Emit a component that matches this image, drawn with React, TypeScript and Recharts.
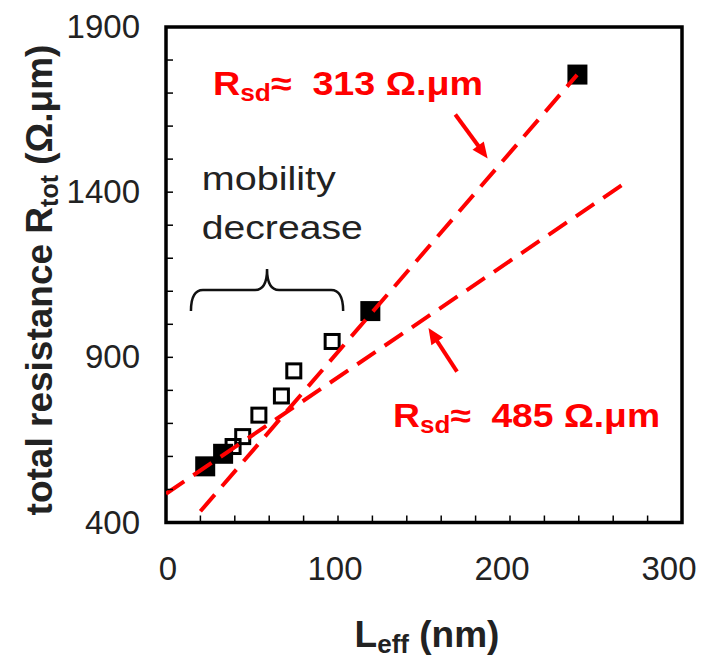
import React from 'react';
import {
  ComposedChart,
  Scatter,
  XAxis,
  YAxis,
  ReferenceArea,
  ReferenceLine,
  ReferenceDot,
} from 'recharts';

// ---- data ----
const xTicks = [0, 20, 40, 60, 80, 100, 120, 140, 160, 180, 200, 220, 240, 260, 280, 300];
const yTicks = [400, 500, 600, 700, 800, 900, 1000, 1100, 1200, 1300, 1400, 1500, 1600, 1700, 1800, 1900];
const xLabelValues = [0, 100, 200, 300];
const yLabelValues = [400, 900, 1400, 1900];

// filled squares (used for the linear fits)
const filledL = [22.8, 33.2, 118.8, 239.2];
const filledR = [570, 608, 1040, 1756];
// open squares (mobility decrease region)
const openL = [39.0, 44.6, 54.0, 67.1, 74.3, 96.6];
const openR = [630, 660, 725, 783, 859, 948];
// fit lines
const fit313L = [20, 239];
const fit313R = [434, 1755];
const fit485L = [0, 267];
const fit485R = [487, 1428];

const toPts = (ls: number[], rs: number[]) => ls.map((l, i) => ({ l, r: rs[i] }));
const filledData = toPts(filledL, filledR);
const openData = toPts(openL, openR);
const fit313Data = toPts(fit313L, fit313R);
const fit485Data = toPts(fit485L, fit485R);

const RED = '#ff0000';
const FONT = '"Liberation Sans", Arial, Helvetica, sans-serif';
const TXT = '#222222';

function XTick(props: any) {
  const { x, y, payload } = props;
  const v = payload.value;
  return (
    <g>
      <line x1={x} x2={x} y1={y} y2={y - 7} stroke="#000" strokeWidth={1.5} />
      {xLabelValues.includes(v) && (
        <text x={x + 2 - v * 0.05} y={y + 57} textAnchor="middle" fontSize={33} fontFamily={FONT} fill={TXT}>
          {v}
        </text>
      )}
    </g>
  );
}

function YTick(props: any) {
  const { x, y, payload } = props;
  const v = payload.value;
  return (
    <g>
      <line x1={x} x2={x + 7} y1={y} y2={y} stroke="#000" strokeWidth={1.5} />
      {yLabelValues.includes(v) && (
        <text x={x - 26} y={y + 11} textAnchor="end" fontSize={33} fontFamily={FONT} fill={TXT}>
          {v}
        </text>
      )}
    </g>
  );
}

function XTitle(props: any) {
  const vb = props.viewBox || { x: 158, y: 514.5, width: 516, height: 143.5 };
  const cx = vb.x + vb.width / 2 + 3;
  const cy = vb.y + 124;
  return (
    <text x={cx} y={cy} textAnchor="middle" fontSize={37} fontWeight="bold" fontFamily={FONT} fill={TXT}>
      L<tspan fontSize={26} dy={6}>eff</tspan>
      <tspan dy={-6}>{'\u00a0(nm)'}</tspan>
    </text>
  );
}

function YTitle(props: any) {
  const vb = props.viewBox || { x: 0, y: 19, width: 158, height: 495.5 };
  const bx = vb.x + 44;
  const cy = vb.y + 253;
  return (
    <text
      x={bx}
      y={cy}
      transform={`rotate(-90, ${bx}, ${cy})`}
      textAnchor="middle"
      fontSize={37}
      fontWeight="bold"
      fontFamily={FONT}
      fill={TXT}
    >
      total resistance R<tspan fontSize={25} dy={6}>tot</tspan>
      <tspan dy={-6}>{'\u00a0(Ω.μm)'}</tspan>
    </text>
  );
}

const FilledSquare = (p: any) => (
  <rect x={p.cx - 10} y={p.cy - 10} width={20} height={20} fill="#000" />
);
const OpenSquare = (p: any) => (
  <rect x={p.cx - 7} y={p.cy - 7} width={14} height={14} fill="none" stroke="#000" strokeWidth={3} />
);
const NoShape = () => <g />;

function Arrow(props: any) {
  const { x1, y1, x2, y2 } = props;
  const dx = x2 - x1;
  const dy = y2 - y1;
  const len = Math.hypot(dx, dy) || 1;
  const ux = dx / len;
  const uy = dy / len;
  const hl = 16;
  const hw = 7;
  const bx = x2 - ux * hl;
  const by = y2 - uy * hl;
  return (
    <g>
      <line x1={x1} y1={y1} x2={bx + ux * 2} y2={by + uy * 2} stroke={RED} strokeWidth={4} />
      <polygon
        points={`${x2},${y2} ${bx - uy * hw},${by + ux * hw} ${bx + uy * hw},${by - ux * hw}`}
        fill={RED}
      />
    </g>
  );
}

function Brace(props: any) {
  const { x1, y1, x2 } = props;
  const xc = (x1 + x2) / 2;
  const ym = y1 - 21;
  const yt = y1 - 42;
  const r = 12;
  const d = `M ${x1} ${y1} Q ${x1} ${ym} ${x1 + r} ${ym} L ${xc - r} ${ym} Q ${xc} ${ym} ${xc} ${yt} Q ${xc} ${ym} ${xc + r} ${ym} L ${x2 - r} ${ym} Q ${x2} ${ym} ${x2} ${y1}`;
  return <path d={d} fill="none" stroke="#111" strokeWidth={2.5} />;
}

const RsdText = (value: string, width: number) => (p: any) => (
  <text
    x={p.cx}
    y={p.cy}
    fill={RED}
    fontWeight="bold"
    fontSize={33}
    fontFamily={FONT}
    textLength={width}
    lengthAdjust="spacingAndGlyphs"
  >
    R<tspan fontSize={23} dy={6}>sd</tspan>
    <tspan dy={-6}>{`≈\u00a0\u00a0${value}\u00a0Ω.μm`}</tspan>
  </text>
);

const PlainText = (value: string, width: number) => (p: any) => (
  <text
    x={p.cx}
    y={p.cy}
    fill={TXT}
    fontSize={33}
    fontFamily={FONT}
    textLength={width}
    lengthAdjust="spacingAndGlyphs"
  >
    {value}
  </text>
);

export default function App() {
  return (
    <ComposedChart width={704} height={658} margin={{ top: 19, right: 30, bottom: 0, left: 0 }}>
      <XAxis
        dataKey="l"
        type="number"
        domain={[0, 300]}
        ticks={xTicks}
        interval={0}
        allowDataOverflow
        height={143.5}
        axisLine={false}
        tickLine={false}
        tickSize={0}
        tickMargin={0}
        tick={<XTick />}
        label={<XTitle />}
      />
      <YAxis
        dataKey="r"
        type="number"
        domain={[400, 1900]}
        ticks={yTicks}
        interval={0}
        allowDataOverflow
        width={158}
        axisLine={false}
        tickLine={false}
        tickSize={0}
        tickMargin={0}
        tick={<YTick />}
        label={<YTitle />}
      />
      <ReferenceArea x1={0} x2={300} y1={400} y2={1900} fill="none" stroke="#000" strokeWidth={3.5} ifOverflow="visible" />

      <Scatter data={openData} shape={OpenSquare} isAnimationActive={false} />
      <Scatter data={filledData} shape={FilledSquare} isAnimationActive={false} />
      <Scatter
        data={fit313Data}
        shape={NoShape}
        line={{ stroke: RED, strokeWidth: 4, strokeDasharray: '22 11' }}
        isAnimationActive={false}
      />
      <Scatter
        data={fit485Data}
        shape={NoShape}
        line={{ stroke: RED, strokeWidth: 4, strokeDasharray: '22 11' }}
        isAnimationActive={false}
      />

      <ReferenceLine segment={[{ x: 168.2, y: 1635 }, { x: 187, y: 1502 }]} shape={Arrow} ifOverflow="visible" />
      <ReferenceLine segment={[{ x: 169.2, y: 857 }, { x: 152.6, y: 989 }]} shape={Arrow} ifOverflow="visible" />
      <ReferenceLine segment={[{ x: 14.5, y: 1040 }, { x: 103, y: 1040 }]} shape={Brace} ifOverflow="visible" />

      <ReferenceDot x={27.3} y={1694} shape={RsdText('313', 270)} ifOverflow="visible" />
      <ReferenceDot x={132} y={689} shape={RsdText('485', 267)} ifOverflow="visible" />
      <ReferenceDot x={20.8} y={1408} shape={PlainText('mobility', 134)} ifOverflow="visible" />
      <ReferenceDot x={20.8} y={1257} shape={PlainText('decrease', 161)} ifOverflow="visible" />
    </ComposedChart>
  );
}
